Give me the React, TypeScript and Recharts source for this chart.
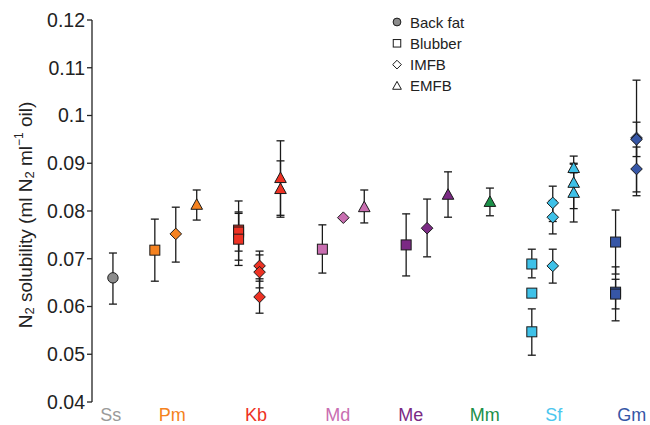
import React from 'react';
import { ComposedChart, Scatter, XAxis, YAxis, ErrorBar } from 'recharts';

// ---------- data ----------
const species = ['Ss', 'Pm', 'Kb', 'Md', 'Me', 'Mm', 'Sf', 'Gm'];
const speciesColors = ['#8c8c8c', '#f58220', '#ee3224', '#c96eb1', '#7b2a84', '#1b9048', '#3ec1e8', '#3656a6'];
const labelColors = ['#9a9a9a', '#f58220', '#ee3224', '#c96eb1', '#7b2a84', '#1b9048', '#4cc6ee', '#3656a6'];
const yTicks = [0.04, 0.05, 0.06, 0.07, 0.08, 0.09, 0.1, 0.11, 0.12];
const tissues = ['Back fat', 'Blubber', 'IMFB', 'EMFB'];

type P = { sp: string; v: number; lo: number; hi: number };

const backFat: P[] = [{ sp: 'Ss', v: 0.066, lo: 0.0605, hi: 0.0712 }];

const blubber: P[] = [
  { sp: 'Pm', v: 0.0718, lo: 0.0653, hi: 0.0783 },
  { sp: 'Kb', v: 0.076, lo: 0.0697, hi: 0.0821 },
  { sp: 'Kb', v: 0.0756, lo: 0.0716, hi: 0.0798 },
  { sp: 'Kb', v: 0.0741, lo: 0.0686, hi: 0.0795 },
  { sp: 'Md', v: 0.072, lo: 0.067, hi: 0.0771 },
  { sp: 'Me', v: 0.0729, lo: 0.0664, hi: 0.0794 },
  { sp: 'Sf', v: 0.0689, lo: 0.066, hi: 0.072 },
  { sp: 'Sf', v: 0.0628, lo: 0.0627, hi: 0.0629 },
  { sp: 'Sf', v: 0.0547, lo: 0.0498, hi: 0.0595 },
  { sp: 'Gm', v: 0.0735, lo: 0.0668, hi: 0.0802 },
  { sp: 'Gm', v: 0.063, lo: 0.057, hi: 0.0683 },
  { sp: 'Gm', v: 0.0626, lo: 0.0595, hi: 0.0657 },
];

const imfb: P[] = [
  { sp: 'Pm', v: 0.0752, lo: 0.0693, hi: 0.0808 },
  { sp: 'Kb', v: 0.0685, lo: 0.0653, hi: 0.0716 },
  { sp: 'Kb', v: 0.0672, lo: 0.0639, hi: 0.0708 },
  { sp: 'Kb', v: 0.062, lo: 0.0586, hi: 0.0658 },
  { sp: 'Md', v: 0.0786, lo: 0.0784, hi: 0.0788 },
  { sp: 'Me', v: 0.0764, lo: 0.0704, hi: 0.0825 },
  { sp: 'Sf', v: 0.0817, lo: 0.0778, hi: 0.0852 },
  { sp: 'Sf', v: 0.0787, lo: 0.0752, hi: 0.0822 },
  { sp: 'Sf', v: 0.0685, lo: 0.0649, hi: 0.072 },
  { sp: 'Gm', v: 0.0953, lo: 0.0832, hi: 0.1074 },
  { sp: 'Gm', v: 0.095, lo: 0.0914, hi: 0.0986 },
  { sp: 'Gm', v: 0.0888, lo: 0.084, hi: 0.0934 },
];

const emfb: P[] = [
  { sp: 'Pm', v: 0.0813, lo: 0.0781, hi: 0.0844 },
  { sp: 'Kb', v: 0.0869, lo: 0.0791, hi: 0.0947 },
  { sp: 'Kb', v: 0.0846, lo: 0.0787, hi: 0.0905 },
  { sp: 'Md', v: 0.0808, lo: 0.0775, hi: 0.0844 },
  { sp: 'Me', v: 0.0834, lo: 0.0787, hi: 0.0882 },
  { sp: 'Mm', v: 0.0819, lo: 0.079, hi: 0.0848 },
  { sp: 'Sf', v: 0.089, lo: 0.088, hi: 0.09 },
  { sp: 'Sf', v: 0.0859, lo: 0.0805, hi: 0.0915 },
  { sp: 'Sf', v: 0.0838, lo: 0.0777, hi: 0.0898 },
];

// ---------- layout (x slots) ----------
const speciesSlot: Record<string, number> = { Ss: 0, Pm: 2, Kb: 6, Md: 10, Me: 14, Mm: 16, Sf: 20, Gm: 24 };
const tissueOffset = [0, 0, 1, 2];
const labelSlots = [-0.1, 2.83, 6.83, 10.74, 14.22, 17.75, 21.05, 24.77];

const build = (arr: P[], t: number) =>
  arr.map((d) => ({ ...d, slot: speciesSlot[d.sp] + tissueOffset[t], err: [d.v - d.lo, d.hi - d.v] }));

const colorOf = (sp: string) => speciesColors[species.indexOf(sp)];
const FONT = '"Liberation Sans", Arial, sans-serif';
const STROKE = '#1a1a1a';

const Marker = ({ kind, cx, cy, fill, s = 1 }: { kind: number; cx: number; cy: number; fill: string; s?: number }) => {
  if (kind === 0) return <circle cx={cx} cy={cy} r={5.2 * s} fill={fill} stroke={STROKE} strokeWidth={1} />;
  if (kind === 1)
    return <rect x={cx - 5 * s} y={cy - 5 * s} width={10 * s} height={10 * s} fill={fill} stroke={STROKE} strokeWidth={1} />;
  if (kind === 2) {
    const r = 5.8 * s;
    return (
      <polygon
        points={`${cx},${cy - r} ${cx + r},${cy} ${cx},${cy + r} ${cx - r},${cy}`}
        fill={fill}
        stroke={STROKE}
        strokeWidth={1}
      />
    );
  }
  return (
    <polygon
      points={`${cx},${cy - 6 * s} ${cx + 5.8 * s},${cy + 4.5 * s} ${cx - 5.8 * s},${cy + 4.5 * s}`}
      fill={fill}
      stroke={STROKE}
      strokeWidth={1}
    />
  );
};

const shapeFor = (kind: number) => (p: any) =>
  <Marker kind={kind} cx={p.cx} cy={p.cy} fill={colorOf(p.payload.sp)} />;

const XTick = (props: any) => {
  const { x, y, payload } = props;
  const i = labelSlots.indexOf(payload.value);
  return (
    <text x={x} y={y + 19} textAnchor="middle" fontSize={18} fill={labelColors[i]} fontFamily={FONT}>
      {species[i]}
    </text>
  );
};

const YLabel = (props: any) => {
  const vb = props.viewBox || { x: 0, y: 12, width: 84, height: 382 };
  const cx = vb.x + 17;
  const cy = vb.y + vb.height / 2 + 4;
  return (
    <text
      x={cx}
      y={cy}
      transform={`rotate(-90, ${cx}, ${cy})`}
      textAnchor="middle"
      dominantBaseline="central"
      fontSize={19}
      fill="#222"
      fontFamily={FONT}
    >
      N<tspan dy={4} fontSize={13}>2</tspan>
      <tspan dy={-4}> solubility (ml N</tspan>
      <tspan dy={4} fontSize={13}>2</tspan>
      <tspan dy={-4}> ml</tspan>
      <tspan dy={-6} fontSize={12}>−1</tspan>
      <tspan dy={6}> oil)</tspan>
    </text>
  );
};

const series = [build(backFat, 0), build(blubber, 1), build(imfb, 2), build(emfb, 3)];

const LegendBox = () => (
  <svg width={120} height={90} style={{ position: 'absolute', left: 391, top: 15 }}>
    {tissues.map((t, i) => (
      <g key={t}>
        <Marker kind={i} cx={6} cy={7 + i * 21.3} fill={i === 0 ? '#8c8c8c' : '#fff'} s={0.75} />
        <text x={19} y={7 + i * 21.3} dominantBaseline="central" fontSize={15} fill="#222" fontFamily={FONT}>
          {t}
        </text>
      </g>
    ))}
  </svg>
);

export default function App() {
  return (
    <div
      style={{
        position: 'relative',
        width: 650,
        height: 425,
        padding: '8px 0 0 8px',
        boxSizing: 'border-box',
        overflow: 'hidden',
      }}
    >
      <style>{'body{margin:0}'}</style>
      <ComposedChart width={642} height={417} margin={{ top: 12, right: 3, left: 0, bottom: 3 }}>
        <XAxis
          type="number"
          dataKey="slot"
          domain={[-1, 25.5]}
          ticks={labelSlots}
          interval={0}
          axisLine={false}
          tickLine={false}
          tickSize={0}
          tickMargin={0}
          height={20}
          tick={<XTick />}
          allowDataOverflow
        />
        <YAxis
          type="number"
          dataKey="v"
          domain={[0.04, 0.12]}
          ticks={yTicks}
          interval={0}
          width={84}
          tickFormatter={(v: number) => String(+v.toFixed(2))}
          tick={{ fontSize: 19.5, fill: '#222', fontFamily: FONT }}
          tickSize={5}
          tickMargin={2}
          axisLine={{ stroke: '#222', strokeWidth: 1.3 }}
          tickLine={{ stroke: '#222', strokeWidth: 1.3 }}
          label={YLabel}
          allowDataOverflow
        />
        {series.map((data, k) => (
          <Scatter key={k} data={data} dataKey="v" isAnimationActive={false} shape={shapeFor(k)}>
            <ErrorBar dataKey="err" direction="y" width={4} stroke={STROKE} strokeWidth={1.3} />
          </Scatter>
        ))}
      </ComposedChart>
      <LegendBox />
    </div>
  );
}
